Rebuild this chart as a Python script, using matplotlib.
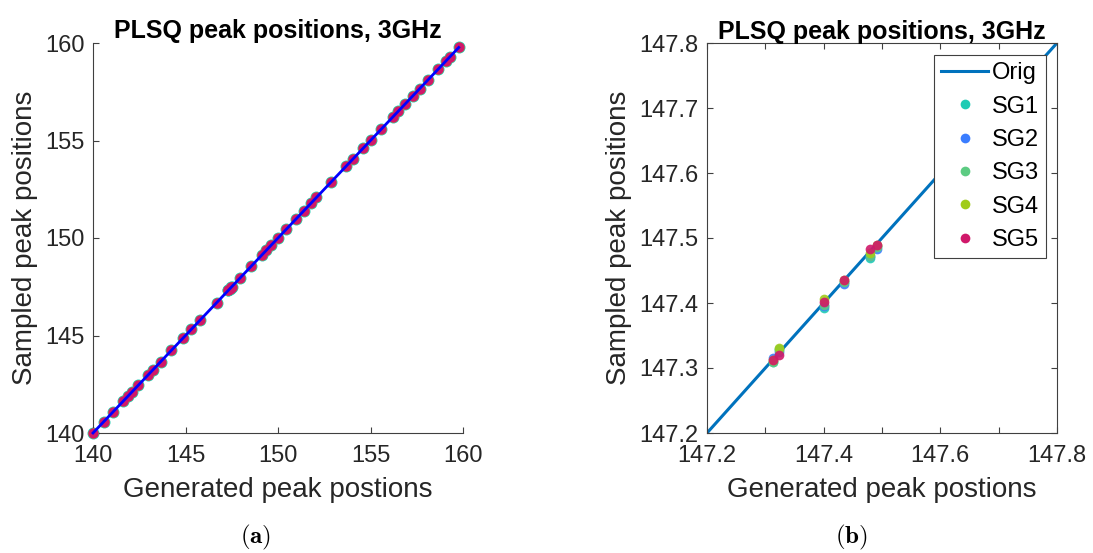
import matplotlib
matplotlib.use("Agg")
import matplotlib.pyplot as plt
from matplotlib.lines import Line2D

plt.rcParams['font.family'] = ['Liberation Sans', 'DejaVu Sans']
plt.rcParams['mathtext.fontset'] = 'cm'

# Generated peak positions (true) and sampled positions from each SG filter
generated = [140.00, 140.58, 141.08, 141.62, 141.90, 142.10, 142.44, 142.98, 143.25, 143.66,
             144.24, 144.87, 145.32, 145.78, 146.68, 147.314, 147.323, 147.401, 147.435, 147.479,
             147.491, 147.95, 148.56, 149.15, 149.37, 149.62, 150.02, 150.45, 150.99, 151.40,
             151.81, 152.08, 152.89, 153.70, 154.05, 154.59, 155.05, 155.59, 156.22, 156.49,
             156.85, 157.30, 157.66, 158.11, 158.65, 159.10, 159.28, 159.77]

sg1 = [140.00, 140.58, 141.08, 141.62, 141.90, 142.10, 142.44, 142.98, 143.25, 143.66,
       144.24, 144.87, 145.32, 145.78, 146.68, 147.310, 147.329, 147.392, 147.432, 147.469,
       147.487, 147.95, 148.56, 149.15, 149.37, 149.62, 150.02, 150.45, 150.99, 151.40,
       151.81, 152.08, 152.89, 153.70, 154.05, 154.59, 155.05, 155.59, 156.22, 156.49,
       156.85, 157.30, 157.66, 158.11, 158.65, 159.10, 159.28, 159.77]
sg2 = [140.00, 140.58, 141.08, 141.62, 141.90, 142.10, 142.44, 142.98, 143.25, 143.66,
       144.24, 144.87, 145.32, 145.78, 146.68, 147.316, 147.325, 147.395, 147.429, 147.472,
       147.483, 147.95, 148.56, 149.15, 149.37, 149.62, 150.02, 150.45, 150.99, 151.40,
       151.81, 152.08, 152.89, 153.70, 154.05, 154.59, 155.05, 155.59, 156.22, 156.49,
       156.85, 157.30, 157.66, 158.11, 158.65, 159.10, 159.28, 159.77]
sg3 = [140.00, 140.58, 141.08, 141.62, 141.90, 142.10, 142.44, 142.98, 143.25, 143.66,
       144.24, 144.87, 145.32, 145.78, 146.68, 147.309, 147.328, 147.397, 147.433, 147.473,
       147.486, 147.95, 148.56, 149.15, 149.37, 149.62, 150.02, 150.45, 150.99, 151.40,
       151.81, 152.08, 152.89, 153.70, 154.05, 154.59, 155.05, 155.59, 156.22, 156.49,
       156.85, 157.30, 157.66, 158.11, 158.65, 159.10, 159.28, 159.77]
sg4 = [140.00, 140.58, 141.08, 141.62, 141.90, 142.10, 142.44, 142.98, 143.25, 143.66,
       144.24, 144.87, 145.32, 145.78, 146.68, 147.312, 147.330, 147.406, 147.436, 147.477,
       147.490, 147.95, 148.56, 149.15, 149.37, 149.62, 150.02, 150.45, 150.99, 151.40,
       151.81, 152.08, 152.89, 153.70, 154.05, 154.59, 155.05, 155.59, 156.22, 156.49,
       156.85, 157.30, 157.66, 158.11, 158.65, 159.10, 159.28, 159.77]
sg5 = [140.00, 140.58, 141.08, 141.62, 141.90, 142.10, 142.44, 142.98, 143.25, 143.66,
       144.24, 144.87, 145.32, 145.78, 146.68, 147.312, 147.320, 147.402, 147.436, 147.483,
       147.489, 147.95, 148.56, 149.15, 149.37, 149.62, 150.02, 150.45, 150.99, 151.40,
       151.81, 152.08, 152.89, 153.70, 154.05, 154.59, 155.05, 155.59, 156.22, 156.49,
       156.85, 157.30, 157.66, 158.11, 158.65, 159.10, 159.28, 159.77]

sg_names = ['SG1', 'SG2', 'SG3', 'SG4', 'SG5']
sg_colors = ['#1ECBB4', '#3A7DFF', '#5CCB82', '#A0CC1A', '#D0186A']
sg_series = [sg1, sg2, sg3, sg4, sg5]

left_ticks = [140, 145, 150, 155, 160]
right_ticks = [147.2, 147.3, 147.4, 147.5, 147.6, 147.7, 147.8]

title = 'PLSQ peak positions, 3GHz'
xlab = 'Generated peak postions'
ylab = 'Sampled peak positions'

TXT = '#262626'
AX = '#404040'
TICK_FS = 17
LAB_FS = 20
TITLE_FS = 18

fig = plt.figure(figsize=(10.93, 5.53), dpi=100)
ax1 = fig.add_axes([93/1093, 120/553, 370/1093, 390/553])
ax2 = fig.add_axes([707/1093, 120/553, 350/1093, 390/553])


def style(ax, box):
    for side in ['left', 'bottom', 'top', 'right']:
        ax.spines[side].set_color(AX)
        ax.spines[side].set_linewidth(0.8)
    if not box:
        ax.spines['top'].set_visible(False)
        ax.spines['right'].set_visible(False)
    ax.tick_params(direction='in', length=4, width=0.8, color=AX,
                   labelsize=TICK_FS, labelcolor=TXT, top=box, right=box)
    ax.tick_params(axis='x', pad=9)
    ax.tick_params(axis='y', pad=6)
    ax.set_title(title, fontsize=TITLE_FS, fontweight='bold', color='black', pad=3)
    ax.set_xlabel(xlab, fontsize=LAB_FS, color=TXT, labelpad=7)
    ax.set_ylabel(ylab, fontsize=LAB_FS, color=TXT, labelpad=5)


# (a) full range
for i, (name, col, ys) in enumerate(zip(sg_names, sg_colors, sg_series)):
    ms = 8.6 if i == 0 else 7.4
    ax1.plot(generated, ys, linestyle='none', marker='o', markersize=ms,
             markerfacecolor=col, markeredgecolor='none', zorder=2 + i, clip_on=False)
ax1.plot(generated, generated, color='#0000FF', linewidth=2.0, zorder=10, clip_on=False)
ax1.set_xlim(140, 160)
ax1.set_ylim(140, 160)
ax1.set_xticks(left_ticks)
ax1.set_yticks(left_ticks)
style(ax1, box=False)

# (b) zoomed window
orig_line, = ax2.plot(generated, generated, color='#0072BD', linewidth=2.2, zorder=1, label='Orig')
handles = [orig_line]
for i, (name, col, ys) in enumerate(zip(sg_names, sg_colors, sg_series)):
    ax2.plot(generated, ys, linestyle='none', marker='o', markersize=7,
             markerfacecolor=col, markeredgecolor='none', alpha=0.9, zorder=2 + i)
    handles.append(Line2D([], [], linestyle='none', marker='o', markersize=7,
                          markerfacecolor=col, markeredgecolor='none', label=name))
ax2.set_xlim(147.2, 147.8)
ax2.set_ylim(147.2, 147.8)
ax2.set_xticks(right_ticks)
ax2.set_yticks(right_ticks)
ax2.set_xticklabels(['147.2', '', '147.4', '', '147.6', '', '147.8'])
ax2.set_yticklabels([f'{t:.1f}' for t in right_ticks])
style(ax2, box=True)

leg = ax2.legend(handles=handles, loc='upper right', bbox_to_anchor=(0.9686, 0.969),
                 borderaxespad=0, fontsize=TICK_FS, frameon=True, fancybox=False,
                 framealpha=1, handlelength=2.0, handletextpad=0.15, labelspacing=0.48,
                 borderpad=0.3, labelcolor='black')
leg.get_frame().set_edgecolor(AX)
leg.get_frame().set_linewidth(0.8)

fig.text(256/1093, 1 - 537/553, r'$\mathbf{(a)}$', ha='center', va='center', fontsize=18)
fig.text(851/1093, 1 - 537/553, r'$\mathbf{(b)}$', ha='center', va='center', fontsize=18)

fig.savefig('out.png', dpi=100)
